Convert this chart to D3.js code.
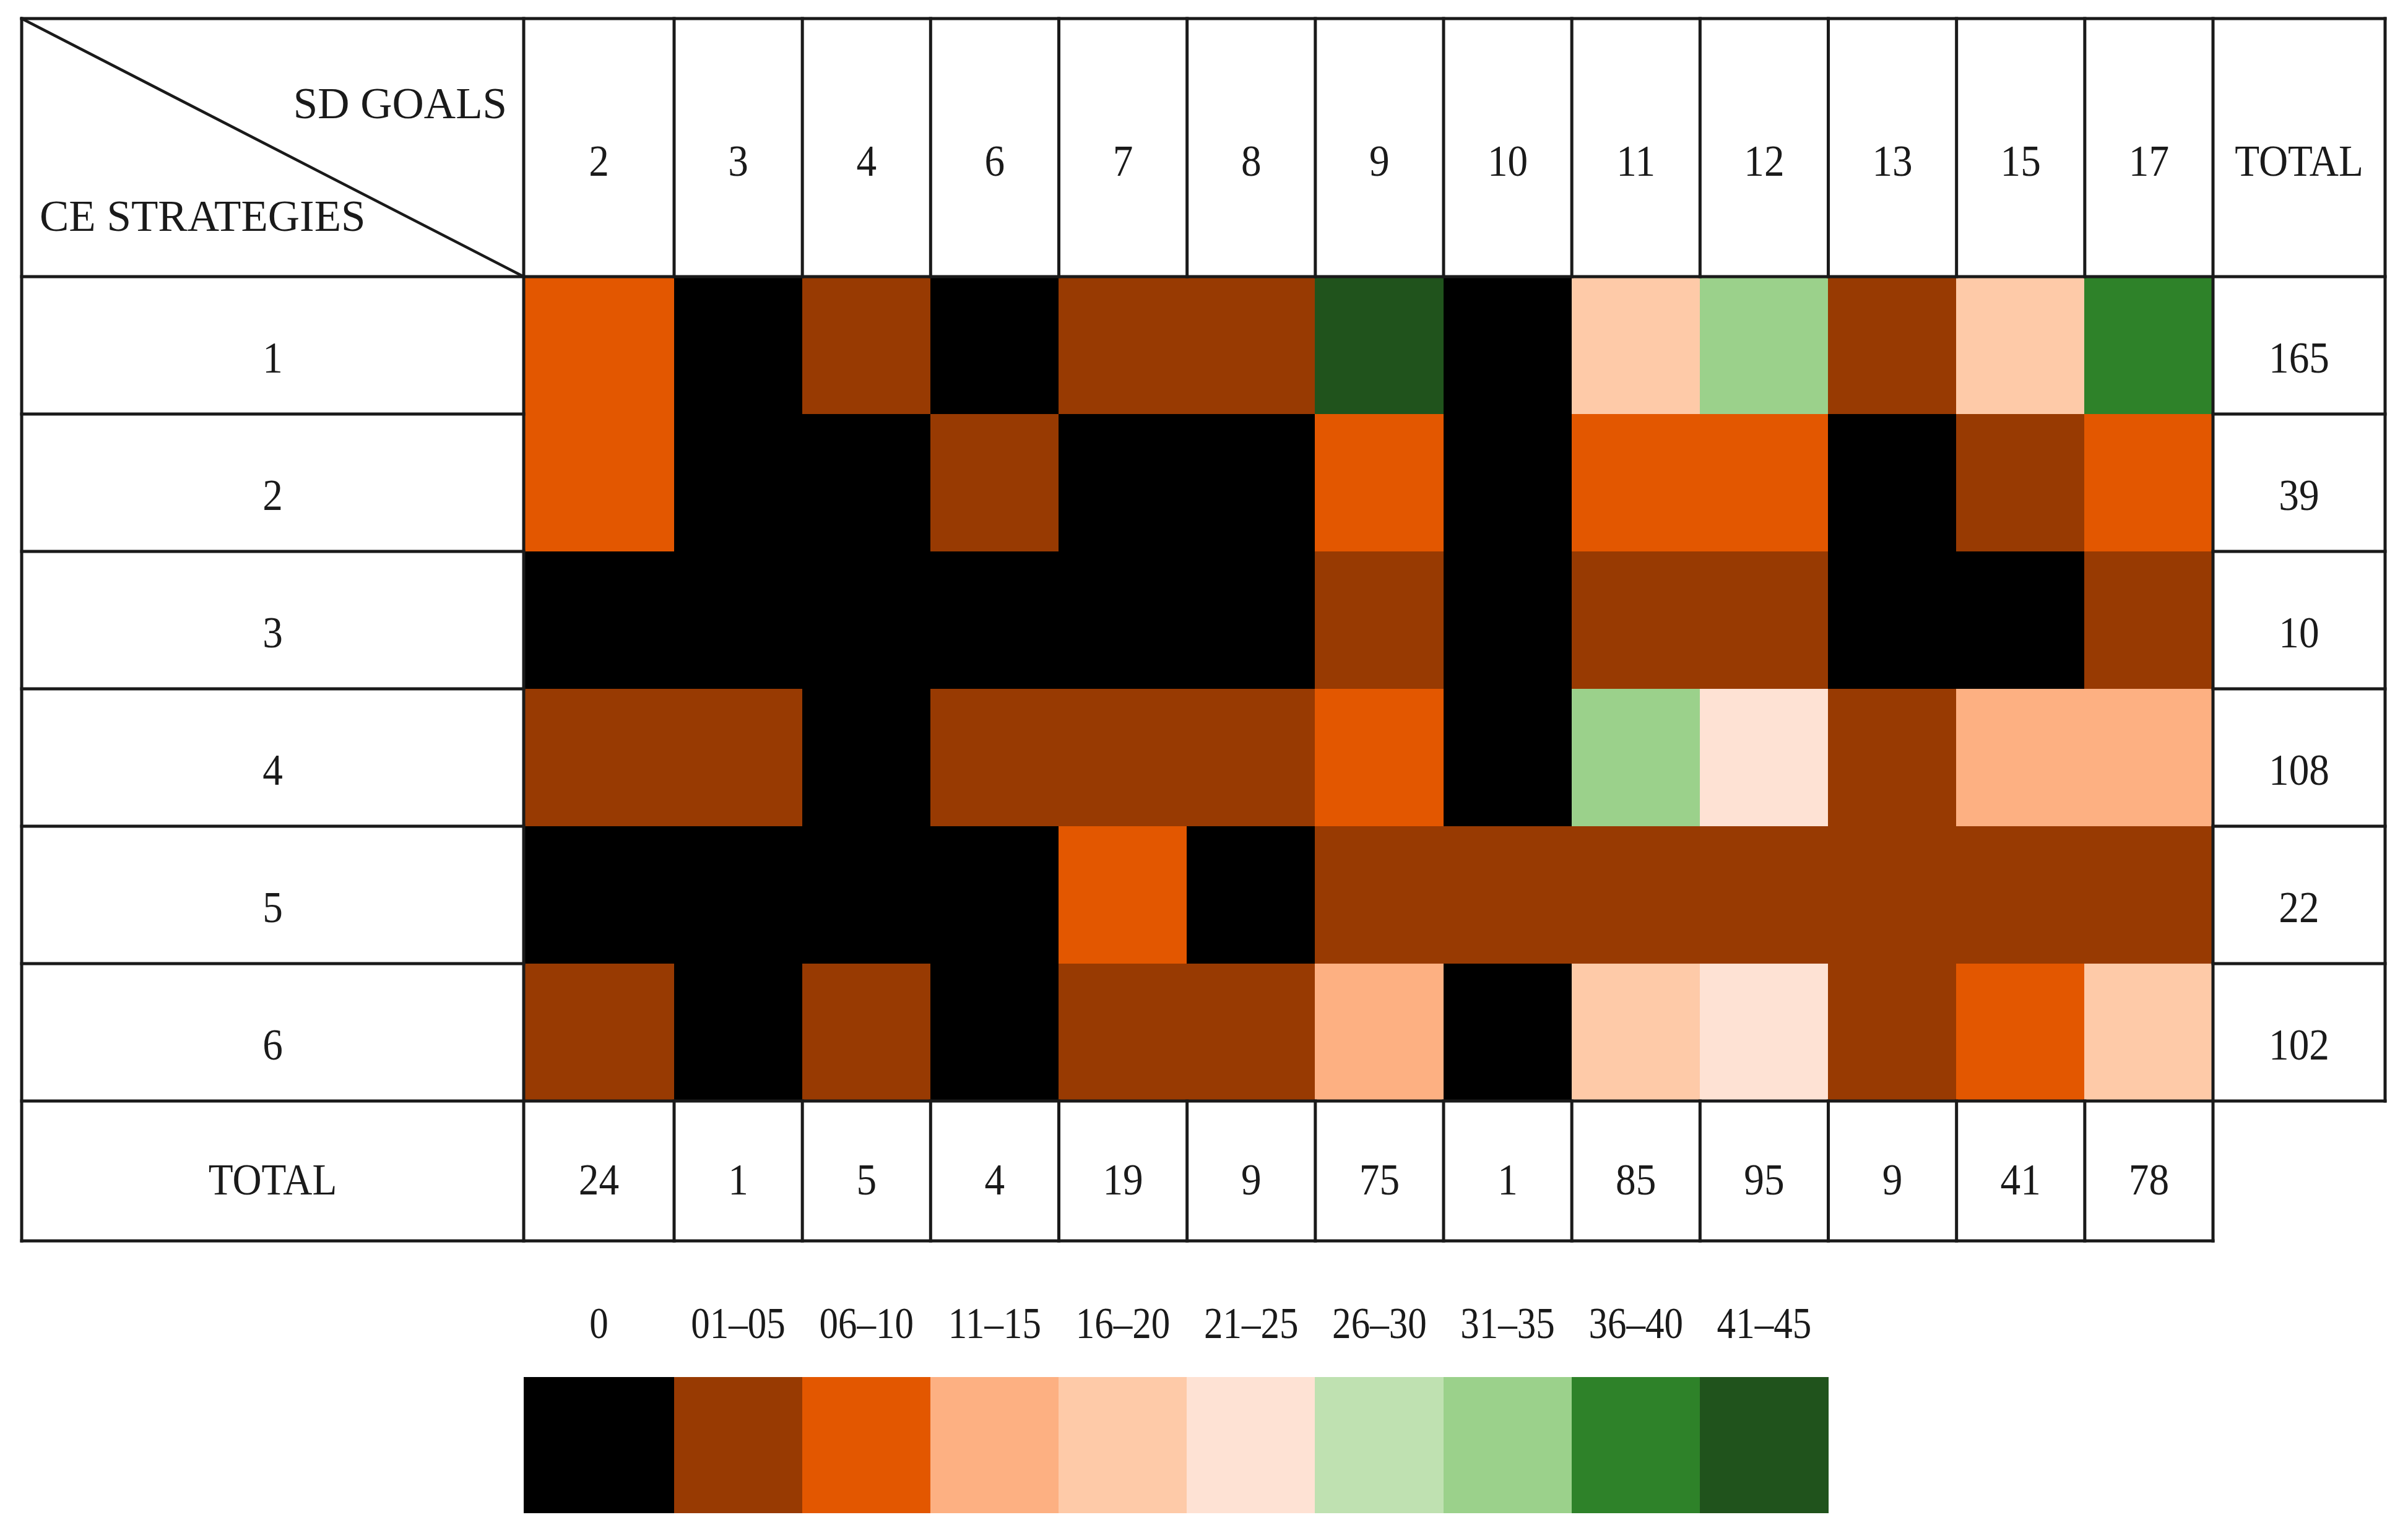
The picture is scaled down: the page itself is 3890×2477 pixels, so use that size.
<!DOCTYPE html>
<html>
<head>
<meta charset="utf-8">
<script src="https://cdn.jsdelivr.net/npm/d3@7"></script>
<style>
  html, body { margin: 0; padding: 0; background: #ffffff; }
  svg { display: block; }
</style>
</head>
<body>
<svg id="chart" width="3890" height="2477"></svg>
<script>
// ---------------- DATA ----------------
const goals = ["2", "3", "4", "6", "7", "8", "9", "10", "11", "12", "13", "15", "17"];
const strategies = ["1", "2", "3", "4", "5", "6"];

// counts per CE strategy (row) for each SD goal (column)
const strategy1 = [7, 0, 3, 0, 3, 2, 42, 0, 19, 33, 2, 17, 37];
const strategy2 = [8, 0, 0, 2, 0, 0, 6, 0, 7, 7, 0, 3, 6];
const strategy3 = [0, 0, 0, 0, 0, 0, 3, 0, 2, 3, 0, 0, 2];
const strategy4 = [5, 1, 0, 2, 4, 4, 8, 0, 35, 24, 3, 11, 11];
const strategy5 = [0, 0, 0, 0, 8, 0, 3, 1, 2, 3, 1, 2, 2];
const strategy6 = [4, 0, 2, 0, 4, 3, 13, 0, 20, 25, 3, 8, 20];
const rows = [strategy1, strategy2, strategy3, strategy4, strategy5, strategy6];

const legendLabels = ["0", "01\u201305", "06\u201310", "11\u201315", "16\u201320", "21\u201325", "26\u201330", "31\u201335", "36\u201340", "41\u201345"];
const thresholds = [1, 6, 11, 16, 21, 26, 31, 36, 41];
const legendColors = ["#000000", "#983a02", "#e35700", "#fdb082", "#fecaa8", "#fee2d4", "#bfe1b1", "#9bd18b", "#2e8229", "#20531c"];

// ---------------- LAYOUT ----------------
const G = {
  left: 35, labelRight: 846, firstColRight: 1089, dataRight: 3575, right: 3853,
  top: 30, headerBottom: 447, dataBottom: 1779, bottom: 2005,
  legendTop: 2225, legendBottom: 2444, legendLabelY: 2137
};
const FONT = "'Liberation Serif', 'Times New Roman', serif";
const FS = 71;
const TXT = "#1a1a1a";
const LINE = "#1a1a1a";
const LW = 5;

const svg = d3.select("#chart");

// column scale: first column wider, the rest a band scale
const xb = d3.scaleBand().domain(goals.slice(1)).range([G.firstColRight, G.dataRight]);
const colX = g => g === goals[0] ? G.labelRight : xb(g);
const colW = g => g === goals[0] ? (G.firstColRight - G.labelRight) : xb.bandwidth();
const y = d3.scaleBand().domain(strategies).range([G.headerBottom, G.dataBottom]);
const color = d3.scaleThreshold().domain(thresholds).range(legendColors);

// ---------------- CELLS ----------------
const cells = [];
rows.forEach((vals, ri) => vals.forEach((v, ci) => cells.push({ s: strategies[ri], g: goals[ci], v })));

svg.append("g").selectAll("rect").data(cells).join("rect")
  .attr("x", d => colX(d.g))
  .attr("y", d => y(d.s))
  .attr("width", d => colW(d.g))
  .attr("height", y.bandwidth())
  .attr("fill", d => color(d.v))
  .attr("stroke", d => color(d.v))
  .attr("stroke-width", 1)
  .attr("shape-rendering", "crispEdges");

// ---------------- GRID LINES ----------------
const lines = svg.append("g").attr("stroke", LINE).attr("stroke-width", LW).attr("stroke-linecap", "square");
function hline(x1, x2, yy) { lines.append("line").attr("x1", x1).attr("x2", x2).attr("y1", yy).attr("y2", yy); }
function vline(xx, y1, y2) { lines.append("line").attr("x1", xx).attr("x2", xx).attr("y1", y1).attr("y2", y2); }

hline(G.left, G.right, G.top);
hline(G.left, G.right, G.headerBottom);
hline(G.left, G.right, G.dataBottom);
hline(G.left, G.dataRight, G.bottom);
vline(G.left, G.top, G.bottom);
vline(G.right, G.top, G.dataBottom);
vline(G.labelRight, G.top, G.bottom);
vline(G.dataRight, G.top, G.bottom);
goals.slice(1).forEach(g => {
  vline(colX(g), G.top, G.headerBottom);
  vline(colX(g), G.dataBottom, G.bottom);
});
strategies.slice(1).forEach(s => {
  hline(G.left, G.labelRight, y(s));
  hline(G.dataRight, G.right, y(s));
});
// diagonal
lines.append("line").attr("x1", G.left).attr("y1", G.top).attr("x2", G.labelRight).attr("y2", G.headerBottom)
  .attr("stroke-width", 4.5);

// ---------------- TEXT ----------------
const texts = svg.append("g").attr("font-family", FONT).attr("font-size", FS).attr("fill", TXT);
function label(tx, ty, str, sx = 0.92, anchor = "middle") {
  texts.append("text")
    .attr("transform", `translate(${tx},${ty}) scale(${sx},1)`)
    .attr("text-anchor", anchor)
    .attr("dy", "0.35em")
    .text(str);
}
const headerY = 259;
goals.forEach(g => label(colX(g) + colW(g) / 2, headerY, g));
label((G.dataRight + G.right) / 2, headerY, "TOTAL");

texts.append("text").attr("x", 819).attr("y", 191).attr("text-anchor", "end").text("SD GOALS");
texts.append("text").attr("x", 64).attr("y", 373).attr("text-anchor", "start").text("CE STRATEGIES");

const rowOffset = 19;
strategies.forEach((s, i) => {
  const cy = y(s) + y.bandwidth() / 2 + rowOffset;
  label((G.left + G.labelRight) / 2, cy, s);
  label((G.dataRight + G.right) / 2, cy, d3.sum(rows[i]));
});

const totalY = (G.dataBottom + G.bottom) / 2 + 13;
label((G.left + G.labelRight) / 2, totalY, "TOTAL");
goals.forEach((g, ci) => label(colX(g) + colW(g) / 2, totalY, d3.sum(rows, r => r[ci])));

// ---------------- LEGEND ----------------
const legendSlots = goals.slice(0, legendLabels.length);
const legend = svg.append("g");
legend.selectAll("rect").data(legendLabels).join("rect")
  .attr("x", (d, i) => colX(legendSlots[i]))
  .attr("y", G.legendTop)
  .attr("width", (d, i) => colW(legendSlots[i]))
  .attr("height", G.legendBottom - G.legendTop)
  .attr("fill", (d, i) => legendColors[i])
  .attr("stroke", (d, i) => legendColors[i])
  .attr("stroke-width", 1)
  .attr("shape-rendering", "crispEdges");
legendLabels.forEach((t, i) => label(colX(legendSlots[i]) + colW(legendSlots[i]) / 2, G.legendLabelY, t, 0.86));
</script>
</body>
</html>
